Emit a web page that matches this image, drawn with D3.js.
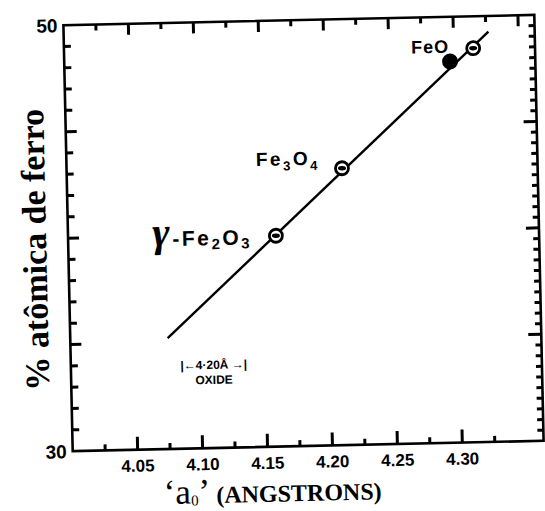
<!DOCTYPE html>
<html>
<head>
<meta charset="utf-8">
<script src="https://cdn.jsdelivr.net/npm/d3@7"></script>
<style>
  html, body { margin: 0; padding: 0; background: #fff; }
  svg { display: block; }
</style>
</head>
<body>
<svg id="chart" width="545" height="511"></svg>
<script>
// Lattice parameter of iron oxides vs. atomic % of iron
const xMajorTicks = [4.05, 4.10, 4.15, 4.20, 4.25, 4.30];
const xTickLabels = ["4.05", "4.10", "4.15", "4.20", "4.25", "4.30"];
const yLabelTicks = [30, 50];
const yTickLabels = ["30", "50"];
const yMajorTicks = [35, 40, 45];

// measured oxides: lattice parameter a0 (Å) and atomic % Fe
const oxides = ["γ-Fe2O3", "Fe3O4", "FeO", "FeO"];
const latticeA = [4.160, 4.212, 4.297, 4.315];
const ironPct = [39.9, 43.0, 47.9, 48.5];
const measurement = ["open", "open", "solid", "open"];

// fitted straight line through the oxides
const fitA = [4.075, 4.327];
const fitPct = [35.2, 49.26];

const svg = d3.select("#chart");
const frame = { left: 68, right: 539, top: 20, bottom: 446 };

const x = d3.scaleLinear().domain([4.00, 4.3626]).range([frame.left, frame.right]);
const y = d3.scaleLinear().domain([30, 50]).range([frame.bottom, frame.top]);

// the printed plate sits slightly tilted on the page
const g = svg.append("g")
  .attr("transform", "rotate(-1.25, 303.5, 233)");

const sans = "'Liberation Sans', Arial, sans-serif";
const serif = "'Liberation Serif', 'Times New Roman', serif";

// minor tick positions
const xMinor = d3.range(4.025, 4.35, 0.05);
const xTop = d3.range(4.025, 4.36, 0.025);
const yMinorLeft = d3.range(31, 50, 1).filter(v => v % 5 !== 0);
const yMinorRight = d3.range(30.5, 50, 0.5).filter(v => v % 5 !== 0);

const tickLayer = g.append("g").attr("fill", "#000");
const TW = 3; // tick thickness

// horizontal ticks off the left / right frame
function hTicks(vals, x0, len) {
  tickLayer.append("g").selectAll("rect").data(vals).join("rect")
    .attr("x", Math.min(x0, x0 + len)).attr("width", Math.abs(len))
    .attr("y", v => y(v) - TW / 2).attr("height", TW);
}
// vertical ticks off the top / bottom frame
function vTicks(vals, y0, len) {
  tickLayer.append("g").selectAll("rect").data(vals).join("rect")
    .attr("y", Math.min(y0, y0 + len)).attr("height", Math.abs(len))
    .attr("x", v => x(v) - TW / 2).attr("width", TW);
}

// bottom: tall ticks every 0.05, short between
vTicks(xMajorTicks, frame.bottom, -13);
vTicks(xMinor, frame.bottom, -6);
// top: alternating long / short
vTicks(xTop.filter((d, i) => i % 2 === 1), frame.top, 11);
vTicks(xTop.filter((d, i) => i % 2 === 0), frame.top, 6);
// left and right
hTicks(yMajorTicks, frame.left, 11);
hTicks(yMinorLeft, frame.left, 7);
hTicks(yMajorTicks, frame.right, -13);
hTicks(yMinorRight, frame.right, -6);

// tick labels
const tl = g.append("g").style("font-family", sans).style("font-weight", "bold")
  .attr("fill", "#000");
tl.selectAll("text.xl").data(xMajorTicks).join("text")
  .attr("class", "xl")
  .attr("x", d => x(d)).attr("y", frame.bottom + 22)
  .attr("text-anchor", "middle").style("font-size", "17px")
  .text((d, i) => xTickLabels[i]);
tl.selectAll("text.yl").data(yLabelTicks).join("text")
  .attr("class", "yl")
  .attr("x", frame.left - 6).attr("y", d => y(d) + 7)
  .attr("text-anchor", "end").style("font-size", "19px")
  .text((d, i) => yTickLabels[i]);

// frame
g.append("rect")
  .attr("x", frame.left).attr("y", frame.top)
  .attr("width", frame.right - frame.left)
  .attr("height", frame.bottom - frame.top)
  .attr("fill", "none").attr("stroke", "#000").attr("stroke-width", 2.6);

// fitted line
const line = d3.line().x(d => x(d[0])).y(d => y(d[1]));
g.append("path")
  .datum(d3.zip(fitA, fitPct))
  .attr("d", line)
  .attr("fill", "none").attr("stroke", "#000").attr("stroke-width", 2.4);

// data markers
const pts = oxides.map((name, i) => ({ name, a: latticeA[i], p: ironPct[i], kind: measurement[i] }));
const mk = g.append("g").selectAll("g").data(pts).join("g")
  .attr("transform", d => `translate(${x(d.a)},${y(d.p)})`);
mk.filter(d => d.kind === "solid").append("circle")
  .attr("r", 8).attr("fill", "#000");
const open = mk.filter(d => d.kind === "open");
open.append("circle").attr("r", 6.5).attr("fill", "#fff")
  .attr("stroke", "#000").attr("stroke-width", 2.8);
open.append("ellipse").attr("rx", 4).attr("ry", 2.2)
  .attr("fill", "#000");

// compound labels
const lbl = g.append("g").style("font-family", sans).style("font-weight", "bold")
  .attr("fill", "#000");

const feo = pts[3];
lbl.append("text")
  .attr("x", x(feo.a) - 24).attr("y", y(feo.p) + 4)
  .attr("text-anchor", "end").style("font-size", "18px")
  .style("letter-spacing", "1px")
  .text("FeO");

const mag = pts[1];
const t1 = lbl.append("text")
  .attr("x", x(mag.a) - 22).attr("y", y(mag.p) - 4)
  .attr("text-anchor", "end").style("font-size", "19px")
  .style("letter-spacing", "2.5px");
t1.append("tspan").text("Fe");
t1.append("tspan").attr("dy", 5).style("font-size", "13px").text("3");
t1.append("tspan").attr("dy", -5).text("O");
t1.append("tspan").attr("dy", 5).style("font-size", "13px").text("4");

const mgh = pts[0];
const t2 = lbl.append("text")
  .attr("x", x(mgh.a) - 24).attr("y", y(mgh.p) + 8)
  .attr("text-anchor", "end").style("font-size", "21px")
  .style("letter-spacing", "2.5px");
t2.append("tspan").style("font-family", serif).style("font-style", "italic")
  .style("font-size", "42px").text("γ");
t2.append("tspan").text("-Fe");
t2.append("tspan").attr("dy", 4).style("font-size", "15px").text("2");
t2.append("tspan").attr("dy", -4).text("O");
t2.append("tspan").attr("dy", 4).style("font-size", "15px").text("3");

// unit-cell scale note
const note = g.append("g").style("font-family", sans).style("font-weight", "bold")
  .attr("fill", "#000").attr("text-anchor", "middle");
note.append("text").attr("x", x(4.110)).attr("y", y(33.9) + 4)
  .style("font-size", "12px").text("|←4·20Å →|");
note.append("text").attr("x", x(4.110)).attr("y", y(33.9) + 19)
  .style("font-size", "12px").text("OXIDE");

// axis titles
g.append("text")
  .attr("transform", "translate(46,244) rotate(-90)")
  .attr("text-anchor", "middle")
  .style("font-family", serif).style("font-weight", "bold")
  .style("font-size", "34px")
  .text("% atômica de ferro");

const xt = g.append("text")
  .attr("x", 267).attr("y", 501)
  .attr("text-anchor", "middle")
  .style("font-family", serif);
xt.append("tspan").style("font-size", "35px").text("‘a");
xt.append("tspan").attr("dy", 2).style("font-size", "15px").text("0");
xt.append("tspan").attr("dy", -2).style("font-size", "35px").text("’ ");
xt.append("tspan").style("font-size", "24px").style("font-weight", "bold").text("(ANGSTRONS)");
</script>
</body>
</html>
